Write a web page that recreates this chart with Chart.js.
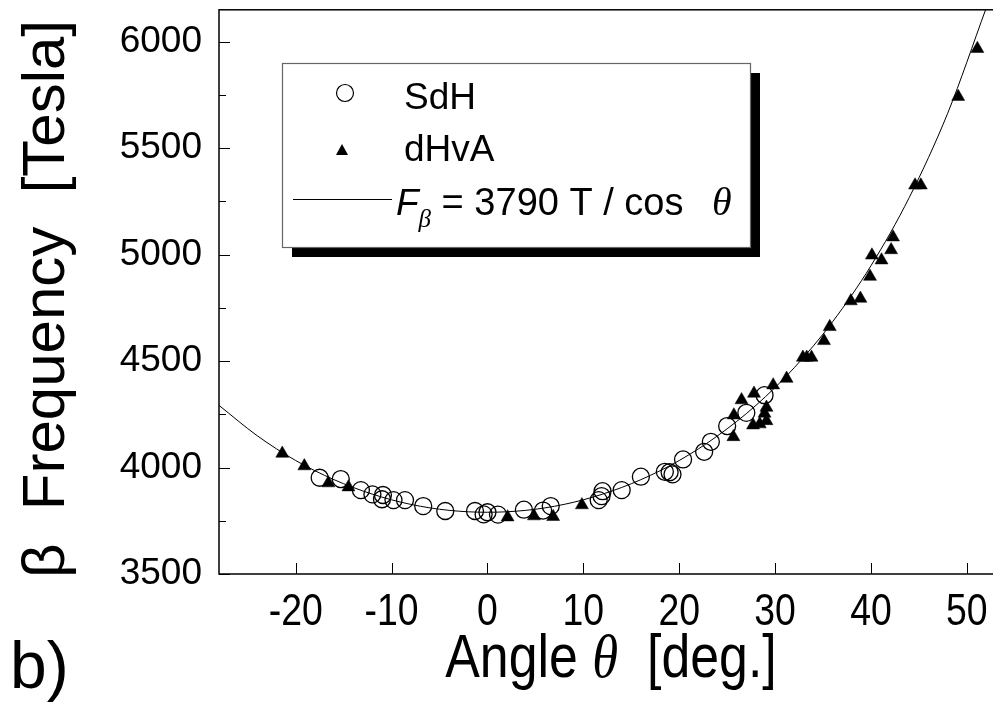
<!DOCTYPE html>
<html lang="en">
<head>
  <meta charset="UTF-8">
  <title>Beta frequency vs angle</title>
  <script src="https://cdn.jsdelivr.net/npm/chart.js"></script>
  <style>
    html, body { margin: 0; padding: 0; overflow: hidden; background: #fff; }
    canvas { display: block; }
  </style>
</head>
<body>
  <canvas id="chart" width="1015" height="708"></canvas>

  <script>
    // SdH points (angle in deg, frequency in T)
    const sdhAngle = [-17.5, -15.3, -13.2, -12.0, -10.9, -11.0, -9.8, -8.6, -6.7, -4.4, -1.3, -0.4, 0.0, 1.1,
                      3.8, 5.8, 6.6, 11.6, 11.9, 12.0, 14.0, 16.0, 18.5, 19.0, 19.3, 20.4, 22.6, 23.3, 25.0, 27.0, 28.9];
    const sdhFreq  = [3952, 3946, 3894, 3874, 3871, 3851, 3847, 3847, 3819, 3796, 3796, 3780, 3790, 3779,
                      3802, 3798, 3819, 3847, 3866, 3889, 3894, 3957, 3980, 3978, 3968, 4038, 4074, 4121, 4195, 4257, 4340];

    // dHvA points
    const dhvaAngle = [-21.4, -19.1, -16.6, -14.5, 2.1, 4.85, 6.85, 9.85, 25.65, 25.7, 26.5, 27.7, 28.4, 29.1, 28.9,
                       29.1, 27.8, 29.8, 31.2, 32.9, 33.3, 33.8, 35.1, 35.7, 37.9, 38.9, 39.9, 40.1, 41.1, 42.1,
                       42.3, 44.6, 45.2, 49.1, 51.1];
    const dhvaFreq  = [4066, 4007, 3927, 3908, 3767, 3772, 3769, 3824, 4144, 4246, 4317, 4199, 4204, 4219, 4254,
                       4282, 4348, 4387, 4418, 4517, 4517, 4517, 4595, 4661, 4782, 4794, 4897, 4997, 4974, 5022,
                       5082, 5326, 5326, 5742, 5967];

    // fit curve F = 3790 T / cos(theta)
    const fitAngle = [-28, -24, -20, -16, -12, -8, -4, 0, 4, 8, 12, 16, 20, 24, 28, 32, 36, 40, 44, 48, 52];
    const fitFreq  = [4292, 4149, 4033, 3943, 3875, 3827, 3799, 3790, 3799, 3827, 3875, 3943, 4033, 4149,
                      4292, 4469, 4685, 4948, 5269, 5664, 6156];

    // axes
    const xTickValues = [-20, -10, 0, 10, 20, 30, 40, 50];
    const yTickValues = [3500, 4000, 4500, 5000, 5500, 6000];
    const yMinorTickValues = [3750, 4250, 4750, 5250, 5750];

    const SANS = '"Liberation Sans", Arial, sans-serif';
    const SERIF = '"Liberation Serif", "Times New Roman", serif';
    const X_SQUEEZE = 0.85;   // bottom texts are narrower than the rest

    const toPoints = (xs, ys) => xs.map((v, i) => ({ x: v, y: ys[i] }));

    // draws text pieces in different fonts one after another
    function drawParts(ctx, parts, x, y) {
      let cx = x;
      parts.forEach(p => {
        ctx.font = p.f;
        ctx.fillText(p.t, cx, y + (p.dy || 0));
        cx += ctx.measureText(p.t).width;
      });
      return cx;
    }
    function partsWidth(ctx, parts) {
      let w = 0;
      parts.forEach(p => { ctx.font = p.f; w += ctx.measureText(p.t).width; });
      return w;
    }

    // frame, inward ticks, x labels, legend, titles
    const decor = {
      id: 'decor',
      afterDraw(chart) {
        const { ctx, chartArea: a, scales: { x, y } } = chart;
        ctx.save();
        ctx.strokeStyle = '#000';
        ctx.fillStyle = '#000';

        // frame
        ctx.lineWidth = 1.5;
        ctx.strokeRect(a.left, a.top, a.right - a.left, a.bottom - a.top);

        // ticks pointing in
        ctx.lineWidth = 1;
        ctx.beginPath();
        xTickValues.forEach(v => {
          const px = Math.round(x.getPixelForValue(v)) + 0.5;
          ctx.moveTo(px, a.bottom); ctx.lineTo(px, a.bottom - 11);
        });
        yTickValues.forEach(v => {
          const py = Math.round(y.getPixelForValue(v)) + 0.5;
          ctx.moveTo(a.left, py); ctx.lineTo(a.left + 11, py);
        });
        yMinorTickValues.forEach(v => {
          const py = Math.round(y.getPixelForValue(v)) + 0.5;
          ctx.moveTo(a.left, py); ctx.lineTo(a.left + 7, py);
        });
        ctx.stroke();

        // x tick labels (condensed)
        ctx.textBaseline = 'alphabetic';
        ctx.textAlign = 'center';
        ctx.font = '44px ' + SANS;
        xTickValues.forEach(v => {
          ctx.save();
          ctx.translate(x.getPixelForValue(v), 625);
          ctx.scale(X_SQUEEZE, 1);
          ctx.fillText(String(v), 0, 0);
          ctx.restore();
        });

        // x axis title (condensed)
        ctx.textAlign = 'left';
        const xParts = [
          { t: 'Angle ', f: '61px ' + SANS },
          { t: '\u03B8', f: 'italic 62px ' + SERIF },
          { t: '  [deg.]', f: '61px ' + SANS }
        ];
        ctx.save();
        ctx.translate(611, 677);
        ctx.scale(X_SQUEEZE, 1);
        drawParts(ctx, xParts, -partsWidth(ctx, xParts) / 2, 0);
        ctx.restore();

        // y axis title
        ctx.save();
        ctx.translate(64, 299);
        ctx.rotate(-Math.PI / 2);
        ctx.textAlign = 'center';
        ctx.font = '60px ' + SANS;
        ctx.fillText('\u03B2  Frequency  [Tesla]', 0, 0);
        ctx.restore();

        // panel label
        ctx.textAlign = 'left';
        ctx.font = '66px ' + SANS;
        ctx.fillText('b)', 10, 688);

        // legend box with shadow
        const L = 282, T = 63, W = 468, H = 184;
        ctx.fillRect(L + 10, T + 10, W, H);
        ctx.fillStyle = '#fff';
        ctx.fillRect(L, T, W, H);
        ctx.strokeStyle = '#666';
        ctx.lineWidth = 1.2;
        ctx.strokeRect(L + 0.5, T + 0.5, W, H);

        ctx.strokeStyle = '#000';
        ctx.fillStyle = '#000';
        // SdH marker
        ctx.lineWidth = 1.2;
        ctx.beginPath();
        ctx.arc(345, 93, 8.5, 0, Math.PI * 2);
        ctx.stroke();
        // dHvA marker
        ctx.beginPath();
        ctx.moveTo(342, 144);
        ctx.lineTo(348, 155);
        ctx.lineTo(336, 155);
        ctx.closePath();
        ctx.fill();
        // fit line sample
        ctx.lineWidth = 1;
        ctx.beginPath();
        ctx.moveTo(293, 199.5);
        ctx.lineTo(392, 199.5);
        ctx.stroke();

        const ds = chart.data.datasets;
        ctx.font = '37px ' + SANS;
        ctx.fillText(ds[1].label, 404, 109);
        ctx.fillText(ds[2].label, 404, 161);
        drawParts(ctx, [
          { t: 'F', f: 'italic 37px ' + SANS },
          { t: '\u03B2', f: 'italic 25px ' + SERIF, dy: 12 },
          { t: ' = 3790 T / cos', f: '38px ' + SANS }
        ], 396, 215);
        ctx.font = 'italic 40px ' + SERIF;
        ctx.fillText('\u03B8', 712, 215);

        ctx.restore();
      }
    };

    new Chart(document.getElementById('chart'), {
      type: 'scatter',
      data: {
        datasets: [
          {
            type: 'line',
            label: 'F\u03B2 = 3790 T / cos \u03B8',
            data: toPoints(fitAngle, fitFreq),
            borderColor: '#000',
            borderWidth: 1,
            pointRadius: 0,
            fill: false,
            cubicInterpolationMode: 'monotone',
            order: 3
          },
          {
            label: 'SdH',
            data: toPoints(sdhAngle, sdhFreq),
            pointStyle: 'circle',
            pointRadius: 8.5,
            borderColor: '#000',
            backgroundColor: 'rgba(0,0,0,0)',
            borderWidth: 1.3,
            order: 2
          },
          {
            label: 'dHvA',
            data: toPoints(dhvaAngle, dhvaFreq),
            pointStyle: 'triangle',
            pointRadius: 7.5,
            borderColor: '#000',
            backgroundColor: '#000',
            borderWidth: 0.5,
            order: 1
          }
        ]
      },
      options: {
        responsive: false,
        animation: false,
        layout: { padding: { top: 9, right: 0, left: 0, bottom: 0 } },
        plugins: {
          legend: { display: false },
          tooltip: { enabled: false }
        },
        scales: {
          x: {
            type: 'linear',
            min: -28,
            max: 54,
            afterBuildTicks: axis => { axis.ticks = xTickValues.map(v => ({ value: v })); },
            afterFit: axis => { axis.height = 134; axis.paddingLeft = 0; axis.paddingRight = 0; },
            grid: { display: false, drawTicks: false },
            border: { display: false },
            ticks: { display: false }
          },
          y: {
            type: 'linear',
            min: 3500,
            max: 6150,
            afterBuildTicks: axis => { axis.ticks = yTickValues.map(v => ({ value: v })); },
            afterFit: axis => { axis.width = 219; axis.paddingTop = 0; axis.paddingBottom = 0; },
            grid: { display: false, drawTicks: false },
            border: { display: false },
            ticks: {
              color: '#000',
              padding: 17,
              font: { family: SANS, size: 37 },
              callback: v => String(v)
            }
          }
        }
      },
      plugins: [decor]
    });
  </script>
</body>
</html>
